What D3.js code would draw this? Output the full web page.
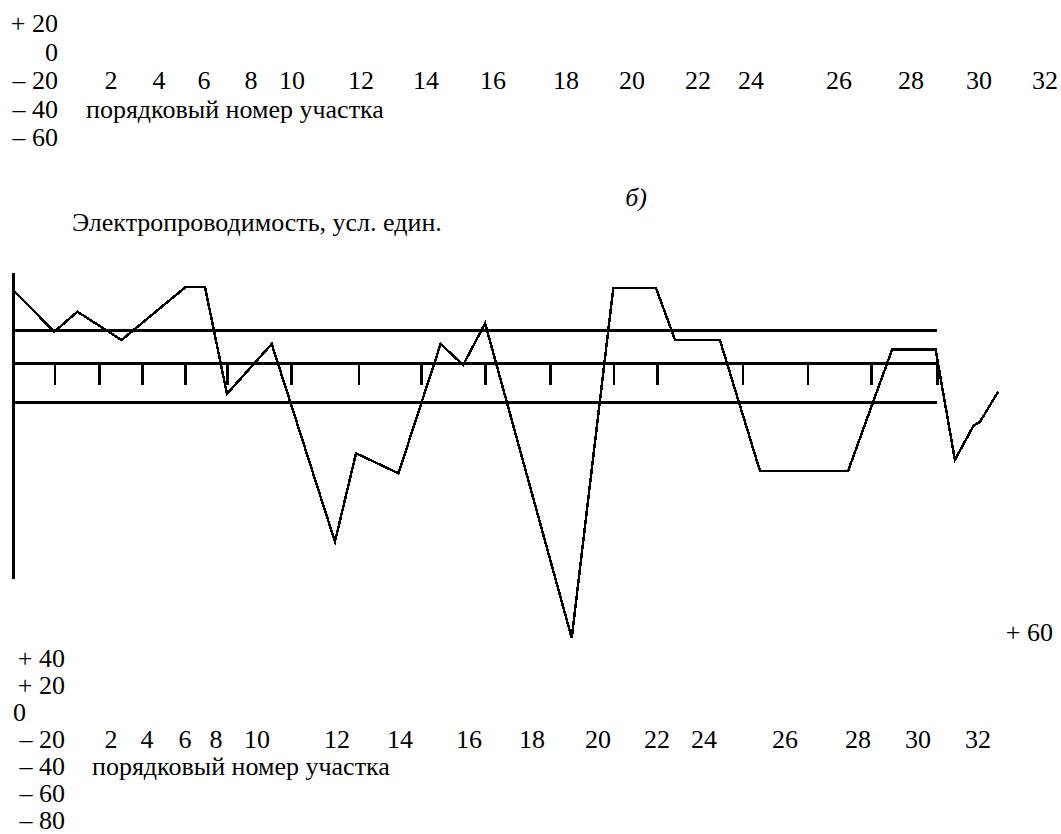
<!DOCTYPE html>
<html><head><meta charset="utf-8">
<script src="https://cdn.jsdelivr.net/npm/d3@7"></script>
<style>
body{margin:0;background:#fff;}
</style></head>
<body><svg id="c" width="1061" height="834"></svg>
<script>
// ---- data ----
const sectionPos = [0, 1.43, 2.23, 3.76, 5.97, 6.65, 7.41, 8.96, 11.15, 11.88, 13.35, 14.81, 15.59, 16.35, 19.35, 20.79, 22.27, 22.93, 24.48, 25.87, 28.92, 30.45, 31.95, 32.62, 33.26, 33.49, 34.12];
const conductivity = [44.3, 19.0, 31.1, 14.0, 45.9, 45.9, -18.6, 11.6, -107.9, -54.5, -66.6, 11.6, -1.1, 24.1, -166.1, 45.3, 45.3, 14.0, 14.0, -65.2, -65.2, 8.4, 8.4, -58.5, -38.0, -35.4, -17.2];
const guideLevels = [20, 0, -24];
const tickPos = [1.43, 2.98, 4.46, 5.96, 7.41, 9.63, 11.96, 14.13, 16.35, 18.6, 20.79, 22.31, 25.26, 27.51, 29.71, 32];
const sectionLabels = ["2","4","6","8","10","12","14","16","18","20","22","24","26","28","30","32"];
const yLabelsTop = ["+ 20","0","– 20","– 40","– 60"];
const yLabelsBottom = ["+ 40","+ 20","0","– 20","– 40","– 60","– 80"];
const yLabelExtra = "+ 60";
const xTitle = "порядковый номер участка";
const yTitle = "Электропроводимость, усл. един.";
const panelTag = "б)";

// ---- layout ----
const FONT = "'Liberation Serif','Times New Roman',Times,serif";
const FS = 26;
const topLabelX = [111, 159, 204, 251, 292, 361, 426, 493, 566, 632, 698, 751, 839, 911, 979, 1045];
const botLabelX = [111, 147, 185, 216, 257, 337, 400, 469, 532, 598, 657, 704, 785, 858, 918, 978];

const svg = d3.select("#c");
const x = d3.scaleLinear().domain([0, 32]).range([13, 937]);
const y = d3.scaleLinear().domain([-130.5, 54.5]).range([579, 273]);

function txt(sel, t, px, py, anchor){
  return sel.append("text").attr("x",px).attr("y",py)
    .attr("text-anchor",anchor||"start").attr("font-family",FONT)
    .attr("font-size",FS).attr("fill","#000").text(t);
}

// top text block
const tb = svg.append("g");
const topBase = 32, topStep = 28.5;
yLabelsTop.forEach((t,i)=> txt(tb, t, 58, topBase+i*topStep, "end"));
sectionLabels.forEach((t,i)=> txt(tb, t, topLabelX[i], topBase+2*topStep, "middle"));
txt(tb, xTitle, 86, topBase+3*topStep);

txt(svg, panelTag, 636, 206, "middle").attr("font-style","italic");
txt(svg, yTitle, 72, 231);

// chart
const g = svg.append("g");
g.append("line").attr("x1",x(0)).attr("x2",x(0)).attr("y1",y(54.5)).attr("y2",y(-130.5))
  .attr("stroke","#000").attr("stroke-width",3).attr("shape-rendering","crispEdges");
g.selectAll("line.guide").data(guideLevels).enter().append("line").attr("class","guide")
  .attr("x1",x(0)).attr("x2",x(32)).attr("y1",d=>y(d)).attr("y2",d=>y(d))
  .attr("stroke","#000").attr("stroke-width",3).attr("shape-rendering","crispEdges");
const ax = g.append("g").attr("transform",`translate(0,${y(0)})`)
  .call(d3.axisBottom(x).tickValues(tickPos).tickSize(22).tickFormat(""));
ax.select(".domain").remove();
ax.selectAll(".tick line").attr("stroke","#000").attr("stroke-width",2.5).attr("shape-rendering","crispEdges");

const pts = sectionPos.map((s,i)=>[s, conductivity[i]]);
g.append("path").datum(pts)
  .attr("d", d3.line().x(d=>x(d[0])).y(d=>y(d[1])))
  .attr("fill","none").attr("stroke","#000").attr("stroke-width",2.5)
  .attr("stroke-linejoin","miter").attr("shape-rendering","crispEdges");

// bottom text block
txt(svg, yLabelExtra, 1053, 641, "end");
const bb = svg.append("g");
const botBase = 667, botStep = 27;
yLabelsBottom.forEach((t,i)=>{
  if (t === "0") txt(bb, t, 13, botBase+i*botStep, "start");
  else txt(bb, t, 65, botBase+i*botStep, "end");
});
sectionLabels.forEach((t,i)=> txt(bb, t, botLabelX[i], botBase+3*botStep, "middle"));
txt(bb, xTitle, 92, botBase+4*botStep);
</script></body></html>
